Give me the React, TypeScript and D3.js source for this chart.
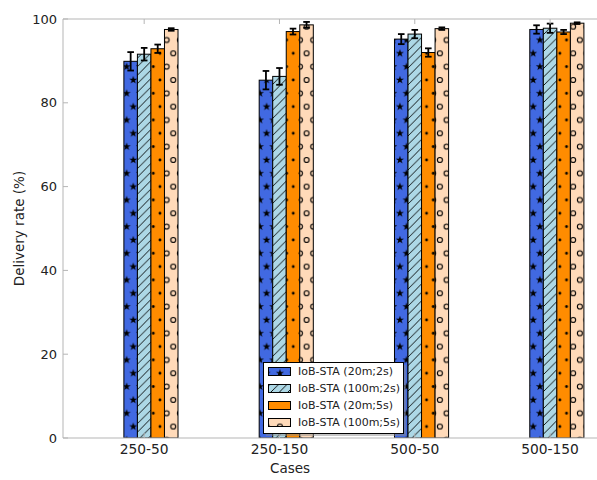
import React from "react";
import * as d3 from "d3";

const cases = ["250-50", "250-150", "500-50", "500-150"];
const seriesNames = ["IoB-STA (20m;2s)", "IoB-STA (100m;2s)", "IoB-STA (20m;5s)", "IoB-STA (100m;5s)"];
const s20m2s = [89.9, 85.4, 95.2, 97.5];
const s100m2s = [91.6, 86.3, 96.4, 97.8];
const s20m5s = [92.9, 97.0, 92.0, 96.9];
const s100m5s = [97.5, 98.6, 97.7, 99.0];
const e20m2s = [2.2, 2.2, 1.2, 1.0];
const e100m2s = [1.5, 2.0, 1.0, 1.1];
const e20m5s = [1.0, 0.7, 1.0, 0.5];
const e100m5s = [0.3, 0.7, 0.3, 0.2];
const yTicks = [0, 20, 40, 60, 80, 100];

const seriesValues = [s20m2s, s100m2s, s20m5s, s100m5s];
const seriesErrors = [e20m2s, e100m2s, e20m5s, e100m5s];
const colors = ["#4169E1", "#ADD8E6", "#FF8C00", "#FFDAB9"];
const patternIds = ["hStar", "hDiag", "hDot", "hCircle"];

const W = 597;
const H = 480;
const left = 63;
const top = 19;
const bottom = 438;
const unit = 135.3;
const barW = 0.1;
const font = "'DejaVu Sans', sans-serif";
const spine = "#b5b5b5";

function starPath(cx: number, cy: number, r: number) {
  const pts: string[] = [];
  for (let i = 0; i < 10; i++) {
    const rr = i % 2 === 0 ? r : r * 0.38;
    const a = -Math.PI / 2 + (i * Math.PI) / 5;
    pts.push(`${cx + rr * Math.cos(a)},${cy + rr * Math.sin(a)}`);
  }
  return "M" + pts.join("L") + "Z";
}

export default function App() {
  const x = d3.scaleLinear().domain([-0.6, 3.6]).range([left, left + 4.2 * unit]);
  const y = d3.scaleLinear().domain([0, 100]).range([bottom, top]);
  const bw = x(barW) - x(0);
  const C = 13.33;
  const D = 8.5;

  const shapeGrid = (render: (cx: number, cy: number, k: string) => React.ReactNode) => {
    const pos: [number, number][] = [
      [0, 0], [C, 0], [C / 2, C], [0, 2 * C], [C, 2 * C],
    ];
    return pos.map(([px, py], i) => render(px, py, String(i)));
  };

  const right = x(3.6);

  return (
    <svg width={W} height={H} style={{ position: "fixed", left: 0, top: 0, background: "#fff" }} fontFamily={font}>
      <defs>
        <pattern id="hStar" patternUnits="userSpaceOnUse" width={C} height={2 * C}>
          <rect width={C} height={2 * C} fill={colors[0]} />
          {shapeGrid((cx, cy, k) => (
            <path key={k} d={starPath(cx, cy, 4.3)} fill="#000" />
          ))}
        </pattern>
        <pattern id="hDiag" patternUnits="userSpaceOnUse" width={D} height={D}>
          <rect width={D} height={D} fill={colors[1]} />
          <path d={`M${-D},${D} L${D},${-D} M0,${2 * D} L${2 * D},0 M0,${D} L${D},0`} stroke="#000" strokeWidth={0.9} />
        </pattern>
        <pattern id="hDot" patternUnits="userSpaceOnUse" width={C} height={2 * C}>
          <rect width={C} height={2 * C} fill={colors[2]} />
          {shapeGrid((cx, cy, k) => (
            <circle key={k} cx={cx} cy={cy} r={1.4} fill="#000" />
          ))}
        </pattern>
        <pattern id="hCircle" patternUnits="userSpaceOnUse" width={C} height={2 * C}>
          <rect width={C} height={2 * C} fill={colors[3]} />
          {shapeGrid((cx, cy, k) => (
            <circle key={k} cx={cx} cy={cy} r={2.5} fill="none" stroke="#000" strokeWidth={1.1} />
          ))}
        </pattern>
        <clipPath id="plotClip">
          <rect x={left} y={top} width={right - left} height={bottom - top} />
        </clipPath>
      </defs>

      {/* bars */}
      <g clipPath="url(#plotClip)">
        {seriesValues.map((vals, s) =>
          vals.map((v, i) => {
            const cx = x(i + (s - 1) * barW);
            return (
              <rect
                key={`b${s}-${i}`}
                x={cx - bw / 2}
                y={y(v)}
                width={bw}
                height={y(0) - y(v)}
                fill={`url(#${patternIds[s]})`}
                stroke="#000"
                strokeWidth={1}
              />
            );
          })
        )}
        {seriesValues.map((vals, s) =>
          vals.map((v, i) => {
            const cx = x(i + (s - 1) * barW);
            const e = seriesErrors[s][i];
            return (
              <g key={`e${s}-${i}`} stroke="#000" strokeWidth={1.8}>
                <line x1={cx} x2={cx} y1={y(v - e)} y2={y(v + e)} />
                <line x1={cx - 3.3} x2={cx + 3.3} y1={y(v - e)} y2={y(v - e)} />
                <line x1={cx - 3.3} x2={cx + 3.3} y1={y(v + e)} y2={y(v + e)} />
              </g>
            );
          })
        )}
      </g>

      {/* spines */}
      <g stroke={spine} strokeWidth={1} fill="none">
        <line x1={left} x2={left} y1={top} y2={bottom} />
        <line x1={left} x2={W} y1={bottom} y2={bottom} />
        <line x1={left} x2={W} y1={top} y2={top} />
      </g>

      {/* y ticks */}
      {yTicks.map((t) => (
        <g key={`yt${t}`}>
          <line x1={left} x2={left + 5} y1={y(t)} y2={y(t)} stroke={spine} />
          <text x={left - 6} y={y(t)} dy="0.35em" textAnchor="end" fontSize={13} fill="#222">
            {t}
          </text>
        </g>
      ))}

      {/* x ticks */}
      {cases.map((c, i) => (
        <g key={`xt${c}`}>
          <line x1={x(i)} x2={x(i)} y1={bottom} y2={bottom - 5} stroke={spine} />
          <line x1={x(i)} x2={x(i)} y1={top} y2={top + 5} stroke={spine} />
          <text x={x(i)} y={bottom + 16} textAnchor="middle" fontSize={13.8} fill="#222">
            {c}
          </text>
        </g>
      ))}

      <text x={290} y={473} textAnchor="middle" fontSize={13.5} fill="#222">
        Cases
      </text>
      <text
        transform={`translate(24,${(top + bottom) / 2}) rotate(-90)`}
        textAnchor="middle"
        fontSize={13.5}
        fill="#222"
      >
        Delivery rate (%)
      </text>

      {/* legend */}
      <g>
        <rect x={266} y={365} width={140} height={71} fill="#8c8c8c" opacity={0.5} />
        <rect x={263.5} y={362.5} width={140} height={71} fill="#fff" stroke="#000" strokeWidth={1} />
        {seriesNames.map((n, s) => {
          const cy = 371.5 + s * 17;
          return (
            <g key={`lg${s}`}>
              <rect x={268.5} y={cy - 4} width={22} height={8} fill={`url(#${patternIds[s]})`} stroke="#000" strokeWidth={1} />
              <text x={298} y={cy} dy="0.35em" fontSize={11} fill="#222">
                {n}
              </text>
            </g>
          );
        })}
      </g>
    </svg>
  );
}
